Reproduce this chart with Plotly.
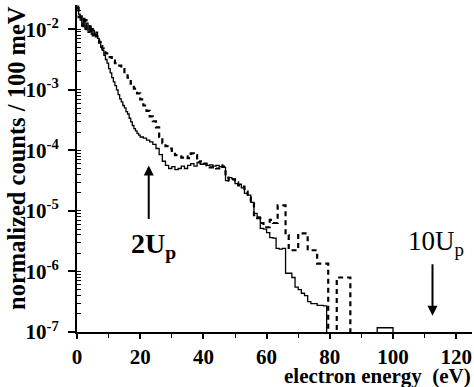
import plotly.graph_objects as go

# ---------------- data ----------------
# energies in eV, values as log10(normalized counts / 100 meV); -9 means "zero" (below axis)
solid_energy = [0, 0.5, 1, 1.5, 2, 2.5, 3, 3.5, 4, 4.5, 5, 5.5, 6, 6.5, 7, 7.5, 8, 8.5, 9, 9.5,
                10, 10.5, 11, 11.5, 12, 12.5, 13, 13.5, 14, 14.5, 15, 15.5, 16, 16.5, 17, 17.5,
                18, 18.5, 19, 19.5, 20, 21, 22, 23, 24, 25, 26, 27, 28, 29, 30, 31, 32, 33, 34,
                35, 36, 37, 38, 39, 40, 41, 42, 43, 44, 45, 46, 47, 48, 49, 50, 51, 52, 53, 54,
                55, 56, 57, 58, 59, 60, 61, 62, 63, 64, 65, 66, 67, 68, 69, 70, 71, 72, 73, 74,
                75, 76, 77, 78, 79, 95, 100]
solid_log10 = [-1.62, -1.75, -1.85, -1.95, -1.82, -2.0, -1.9, -2.05, -1.95, -2.08, -2.02, -2.1,
               -2.05, -2.15, -2.2, -2.3, -2.35, -2.43, -2.5, -2.56, -2.65, -2.72, -2.8, -2.87,
               -2.93, -3.0, -3.08, -3.15, -3.2, -3.26, -3.3, -3.36, -3.4, -3.47, -3.53, -3.59,
               -3.64, -3.68, -3.72, -3.75, -3.78, -3.8, -3.83, -3.86, -3.9, -3.97, -4.07, -4.18,
               -4.25, -4.3, -4.27, -4.32, -4.3, -4.26, -4.3, -4.25, -4.22, -4.26, -4.2, -4.23,
               -4.22, -4.25, -4.24, -4.26, -4.25, -4.27, -4.28, -4.5, -4.45, -4.47, -4.55, -4.56,
               -4.62, -4.71, -4.74, -4.86, -5.04, -5.1, -5.29, -5.3, -5.36, -5.44, -5.45, -5.62,
               -5.63, -5.62, -6.03, -6.03, -6.1, -6.26, -6.3, -6.36, -6.4, -6.5, -6.53, -6.53,
               -6.56, -6.56, -6.57, -9, -6.93, -9]

dashed_energy = [0, 0.5, 1, 1.5, 2, 2.5, 3, 3.5, 4, 4.5, 5, 5.5, 6, 6.5, 7, 7.5, 8, 8.5, 9,
                 10, 11, 12, 13, 14, 15, 16, 17, 18, 19, 20, 21, 22, 23, 24, 25, 26, 27, 28,
                 29, 30, 31, 32, 33, 34, 35, 36, 37, 38, 39, 40, 41, 42, 43, 44, 45, 46, 47,
                 48, 49, 50, 51, 52, 53, 54, 55, 56, 57, 58, 59, 60, 61, 62, 63.5, 66, 67, 70,
                 73, 76, 79.5, 82.2, 86.5]
dashed_log10 = [-1.65, -1.8, -1.75, -1.9, -1.95, -1.85, -2.0, -1.95, -2.05, -2.0, -2.1, -2.05,
                -2.12, -2.18, -2.22, -2.28, -2.32, -2.38, -2.4, -2.46, -2.52, -2.56, -2.6,
                -2.66, -2.74, -2.8, -2.9, -2.98, -3.06, -3.16, -3.26, -3.35, -3.44, -3.52,
                -3.62, -3.78, -3.88, -3.93, -3.97, -4.03, -4.08, -4.1, -4.12, -4.1, -4.13,
                -4.05, -4.08, -4.2, -4.18, -4.22, -4.25, -4.28, -4.27, -4.3, -4.25, -4.27,
                -4.45, -4.5, -4.48, -4.53, -4.58, -4.6, -4.68, -4.78, -4.85, -5.07, -5.12,
                -5.2, -5.27, -5.27, -5.15, -5.2, -4.91, -5.4, -5.65, -5.37, -5.65, -5.87, -9,
                -6.1, -9]

x_ticks = [0, 20, 40, 60, 80, 100, 120]
y_tick_exponents = [-7, -6, -5, -4, -3, -2]

# markers: 2Up and 10Up arrows (energy, log10 of arrow head)
arrow_2up = (22.7, -4.25)
arrow_10up = (112.5, -6.73)

# ---------------- figure ----------------
SERIF = "Liberation Serif"

solid_y = [10 ** v for v in solid_log10]
dashed_y = [10 ** v for v in dashed_log10]

fig = go.Figure()
fig.add_trace(go.Scatter(x=dashed_energy, y=dashed_y, mode="lines", line_shape="hv",
                         line=dict(color="black", width=2.2, dash="5px,4px"), showlegend=False))
fig.add_trace(go.Scatter(x=solid_energy, y=solid_y, mode="lines", line_shape="hv",
                         line=dict(color="black", width=1.3), showlegend=False))

fig.update_layout(
    width=474, height=387,
    margin=dict(l=77, r=2, t=5, b=55),
    paper_bgcolor="white", plot_bgcolor="white",
    font=dict(family=SERIF, color="black"),
    showlegend=False,
    xaxis=dict(range=[0, 125], showline=True, linecolor="black", linewidth=2,
               showgrid=False, zeroline=False,
               tickmode="array", tickvals=x_ticks, ticktext=[str(v) for v in x_ticks],
               ticks="outside", ticklen=5, tickwidth=1.5, tickcolor="black",
               ticklabelstandoff=0,
               tickfont=dict(family=SERIF, size=21, weight="bold", color="black"),
               minor=dict(dtick=10, tick0=0, ticks="outside", ticklen=4, tickwidth=1.2,
                          tickcolor="black", showgrid=False)),
    yaxis=dict(type="log", range=[-7, -1.6], showline=True, linecolor="black", linewidth=2,
               showgrid=False, zeroline=False,
               tickmode="array", tickvals=[10 ** e for e in y_tick_exponents],
               ticktext=["10<sup>%d</sup>" % e for e in y_tick_exponents],
               ticks="outside", ticklen=7, tickwidth=1.5, tickcolor="black",
               ticklabelstandoff=5,
               tickfont=dict(family=SERIF, size=21, weight="bold", color="black"),
               minor=dict(dtick="D1", ticks="inside", ticklen=4, tickwidth=1,
                          tickcolor="black", showgrid=False)),
)

annotations = [
    dict(text="normalized counts / 100 meV", textangle=-90, xref="paper", yref="paper",
         x=(16 - 77) / 395, y=(332 - 158) / 327, xanchor="center", yanchor="middle",
         showarrow=False, font=dict(family=SERIF, size=24.5, weight="bold", color="black")),
    dict(text="electron energy  (eV)", xref="paper", yref="paper",
         x=(473 - 77) / 395, y=(332 - 376) / 327, xanchor="right", yanchor="middle",
         showarrow=False, font=dict(family=SERIF, size=21, weight="bold", color="black")),
    dict(x=arrow_2up[0], y=arrow_2up[1], xref="x", yref="y", text="", showarrow=True,
         ax=0, ay=55, arrowhead=2, arrowsize=1, arrowwidth=2, arrowcolor="black"),
    dict(x=arrow_10up[0], y=arrow_10up[1], xref="x", yref="y", text="", showarrow=True,
         ax=0, ay=-53, arrowhead=2, arrowsize=1, arrowwidth=2, arrowcolor="black"),
    dict(text="2U<sub>p</sub>", xref="paper", yref="paper",
         x=(129 - 77) / 395, y=(332 - 226) / 327, xanchor="left", yanchor="top",
         showarrow=False, font=dict(family=SERIF, size=28, weight="bold", color="black")),
    dict(text="10U<sub>p</sub>", xref="paper", yref="paper",
         x=(406 - 77) / 395, y=(332 - 224) / 327, xanchor="left", yanchor="top",
         showarrow=False, font=dict(family=SERIF, size=27, color="black")),
]
fig.update_layout(annotations=annotations)

fig.write_html("out.html")
